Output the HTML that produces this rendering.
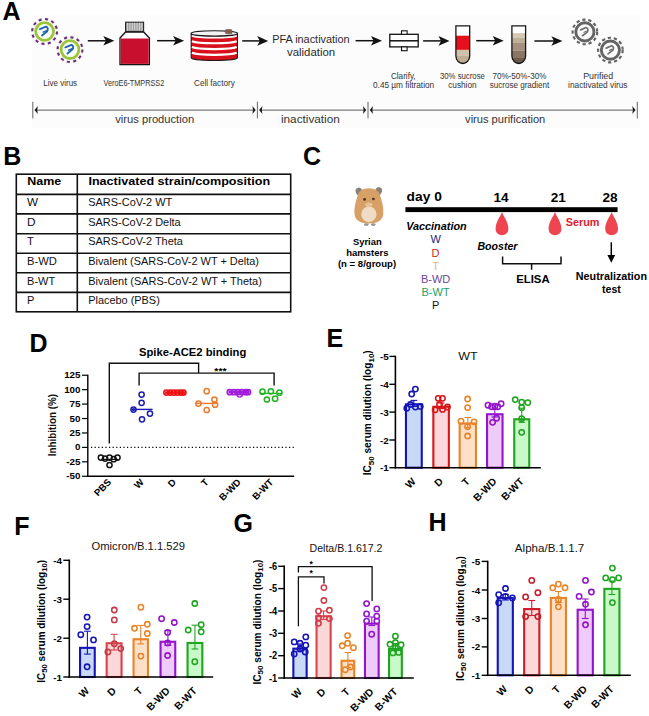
<!DOCTYPE html>
<html><head><meta charset="utf-8"><style>
html,body{margin:0;padding:0;background:#fff;}
body{width:649px;height:716px;overflow:hidden;}
svg{display:block;}
text{font-family:"Liberation Sans", sans-serif;}
</style></head><body>
<svg width="649" height="716" viewBox="0 0 649 716">
<rect x="32" y="15" width="608" height="113" fill="#fcfcfc" stroke="none" stroke-width="1"/>
<text x="2.6" y="19.9" font-size="25" font-weight="bold" text-anchor="start" fill="#000">A</text>
<circle cx="44.60" cy="31.50" r="12.4" stroke="#e8c8ec" stroke-width="3.2" fill="none" stroke-dasharray="3.6 2.9" stroke-opacity="0.6"/>
<circle cx="44.60" cy="31.50" r="12.4" stroke="#62306e" stroke-width="2.0" fill="none" stroke-dasharray="3.0 3.5"/>
<circle cx="44.60" cy="31.50" r="8.9" stroke="#9cc43a" stroke-width="2.8" fill="#f8fff4"/>
<path d="M40.0 29.2 L46.0 26.7 Q49.0 28.1 47.0 31.5 L42.0 35.4" stroke="#2463b0" stroke-width="1.9" fill="none" stroke-linecap="round" stroke-linejoin="round"/>
<path d="M43.2 32.1 L46.6 30.6" stroke="#2463b0" stroke-width="1.4" fill="none" stroke-linecap="round"/>
<circle cx="70.00" cy="49.60" r="12.4" stroke="#e8c8ec" stroke-width="3.2" fill="none" stroke-dasharray="3.6 2.9" stroke-opacity="0.6"/>
<circle cx="70.00" cy="49.60" r="12.4" stroke="#62306e" stroke-width="2.0" fill="none" stroke-dasharray="3.0 3.5"/>
<circle cx="70.00" cy="49.60" r="8.9" stroke="#9cc43a" stroke-width="2.8" fill="#f8fff4"/>
<path d="M65.4 47.300000000000004 L71.4 44.800000000000004 Q74.4 46.2 72.4 49.6 L67.4 53.5" stroke="#2463b0" stroke-width="1.9" fill="none" stroke-linecap="round" stroke-linejoin="round"/>
<path d="M68.6 50.2 L72.0 48.7" stroke="#2463b0" stroke-width="1.4" fill="none" stroke-linecap="round"/>
<line x1="87.8" y1="40.8" x2="106.39999999999999" y2="40.8" stroke="#111" stroke-width="1.5"/>
<path d="M114.3 40.8 L103.3 36.0 L105.89999999999999 40.8 L103.3 45.599999999999994 Z" stroke="none" stroke-width="1" fill="#111"/>
<path d="M120.0 38.0 L125.6 32.0 L143.6 32.0 L149.4 38.0 L149.4 64.6 L120.0 64.6 Z" stroke="#111" stroke-width="1.3" fill="#fff"/>
<rect x="120.7" y="38.5" width="28.0" height="25.4" fill="#c8102e" stroke="none" stroke-width="1"/>
<rect x="125.6" y="22.2" width="18" height="9.2" fill="#a4a4a4" stroke="#222" stroke-width="1.1"/>
<line x1="127.5" y1="22.8" x2="127.5" y2="30.8" stroke="#dcdcdc" stroke-width="0.8"/>
<line x1="129.9" y1="22.8" x2="129.9" y2="30.8" stroke="#dcdcdc" stroke-width="0.8"/>
<line x1="132.3" y1="22.8" x2="132.3" y2="30.8" stroke="#dcdcdc" stroke-width="0.8"/>
<line x1="134.7" y1="22.8" x2="134.7" y2="30.8" stroke="#dcdcdc" stroke-width="0.8"/>
<line x1="137.1" y1="22.8" x2="137.1" y2="30.8" stroke="#dcdcdc" stroke-width="0.8"/>
<line x1="139.5" y1="22.8" x2="139.5" y2="30.8" stroke="#dcdcdc" stroke-width="0.8"/>
<line x1="141.9" y1="22.8" x2="141.9" y2="30.8" stroke="#dcdcdc" stroke-width="0.8"/>
<line x1="157.1" y1="40.7" x2="176.2" y2="40.7" stroke="#111" stroke-width="1.5"/>
<path d="M184.1 40.7 L173.1 35.900000000000006 L175.7 40.7 L173.1 45.5 Z" stroke="none" stroke-width="1" fill="#111"/>
<path d="M191.2 33.4 L191.2 57.8 A23.10000000000001 2.7 0 0 0 237.4 57.8 L237.4 33.4 Z" stroke="#1a1a1a" stroke-width="1.1" fill="#d8101c"/>
<path d="M191.89999999999998 35.4 A23.10000000000001 2.7 0 0 0 236.70000000000002 35.4" stroke="#fff" stroke-width="2.2" fill="none"/>
<path d="M191.89999999999998 41.2 A23.10000000000001 2.7 0 0 0 236.70000000000002 41.2" stroke="#fff" stroke-width="2.2" fill="none"/>
<path d="M191.89999999999998 47.0 A23.10000000000001 2.7 0 0 0 236.70000000000002 47.0" stroke="#fff" stroke-width="2.2" fill="none"/>
<path d="M191.89999999999998 52.8 A23.10000000000001 2.7 0 0 0 236.70000000000002 52.8" stroke="#fff" stroke-width="2.2" fill="none"/>
<ellipse cx="214.3" cy="33.4" rx="23.10000000000001" ry="2.7" fill="#f2f2f2" stroke="#1a1a1a" stroke-width="1.1"/>
<rect x="225.4" y="29.6" width="6.6" height="4.2" fill="#8c5a48" stroke="#555" stroke-width="0.6" rx="1.2"/>
<line x1="242.2" y1="40.9" x2="260.3" y2="40.9" stroke="#111" stroke-width="1.5"/>
<path d="M268.2 40.9 L257.2 36.1 L259.8 40.9 L257.2 45.699999999999996 Z" stroke="none" stroke-width="1" fill="#111"/>
<text x="310.9" y="43.1" font-size="11.2" text-anchor="middle" fill="#2a2a2a" textLength="77.50" lengthAdjust="spacingAndGlyphs">PFA inactivation</text>
<text x="311.1" y="55.7" font-size="11.2" text-anchor="middle" fill="#2a2a2a" textLength="48.10" lengthAdjust="spacingAndGlyphs">validation</text>
<line x1="355.6" y1="40.7" x2="374.1" y2="40.7" stroke="#111" stroke-width="1.5"/>
<path d="M382.0 40.7 L371.0 35.900000000000006 L373.6 40.7 L371.0 45.5 Z" stroke="none" stroke-width="1" fill="#111"/>
<rect x="389.8" y="34.3" width="28.4" height="12.6" fill="#fff" stroke="#111" stroke-width="1.3"/>
<line x1="389.8" y1="40.8" x2="418.2" y2="40.8" stroke="#111" stroke-width="1.5"/>
<rect x="401.5" y="30.8" width="5.6" height="3.5" fill="#fff" stroke="#111" stroke-width="1.1"/>
<rect x="401.5" y="46.9" width="5.6" height="3.8" fill="#fff" stroke="#111" stroke-width="1.1"/>
<line x1="423.1" y1="40.9" x2="441.6" y2="40.9" stroke="#111" stroke-width="1.5"/>
<path d="M449.5 40.9 L438.5 36.1 L441.1 40.9 L438.5 45.699999999999996 Z" stroke="none" stroke-width="1" fill="#111"/>
<clipPath id="tc1"><path d="M455.9 25.9 L455.9 56.0 C455.9 60.9 459.59999999999997 63.5 462.79999999999995 63.5 C465.99999999999994 63.5 469.7 60.9 469.7 56.0 L469.7 25.9 Z"/></clipPath>
<g clip-path="url(#tc1)">
<rect x="455.9" y="25" width="13.8" height="10.700000000000003" fill="#fff" stroke="none" stroke-width="1"/>
<rect x="455.9" y="35.7" width="13.8" height="14.199999999999996" fill="#e80f1c" stroke="none" stroke-width="1"/>
<rect x="455.9" y="49.9" width="13.8" height="6.100000000000001" fill="#cfc2aa" stroke="none" stroke-width="1"/>
<rect x="455.9" y="56" width="13.8" height="8" fill="#bfae94" stroke="none" stroke-width="1"/>
</g>
<path d="M455.9 25.9 L455.9 56.0 C455.9 60.9 459.59999999999997 63.5 462.79999999999995 63.5 C465.99999999999994 63.5 469.7 60.9 469.7 56.0 L469.7 25.9 Z" stroke="#151515" stroke-width="1.3" fill="none"/>
<line x1="476.2" y1="40.7" x2="495.8" y2="40.7" stroke="#111" stroke-width="1.5"/>
<path d="M503.7 40.7 L492.7 35.900000000000006 L495.3 40.7 L492.7 45.5 Z" stroke="none" stroke-width="1" fill="#111"/>
<clipPath id="tc2"><path d="M511.9 25.9 L511.9 56.0 C511.9 60.9 515.55 63.5 518.75 63.5 C521.95 63.5 525.6 60.9 525.6 56.0 L525.6 25.9 Z"/></clipPath>
<g clip-path="url(#tc2)">
<rect x="511.9" y="25" width="13.7" height="8.100000000000001" fill="#fff" stroke="none" stroke-width="1"/>
<rect x="511.9" y="33.1" width="13.7" height="4.600000000000001" fill="#d6c8b2" stroke="none" stroke-width="1"/>
<rect x="511.9" y="37.7" width="13.7" height="5.199999999999996" fill="#bfae98" stroke="none" stroke-width="1"/>
<rect x="511.9" y="42.9" width="13.7" height="7.899999999999999" fill="#a59080" stroke="none" stroke-width="1"/>
<rect x="511.9" y="50.8" width="13.7" height="7.200000000000003" fill="#8a7666" stroke="none" stroke-width="1"/>
<rect x="511.9" y="58" width="13.7" height="6" fill="#6c5a4c" stroke="none" stroke-width="1"/>
</g>
<path d="M511.9 25.9 L511.9 56.0 C511.9 60.9 515.55 63.5 518.75 63.5 C521.95 63.5 525.6 60.9 525.6 56.0 L525.6 25.9 Z" stroke="#151515" stroke-width="1.3" fill="none"/>
<line x1="534.4" y1="41.0" x2="554.5" y2="41.0" stroke="#111" stroke-width="1.5"/>
<path d="M562.4 41.0 L551.4 36.2 L554.0 41.0 L551.4 45.8 Z" stroke="none" stroke-width="1" fill="#111"/>
<circle cx="584.90" cy="31.90" r="12.3" stroke="#626262" stroke-width="2.1" fill="none" stroke-dasharray="3.3 2.8"/>
<circle cx="584.90" cy="31.90" r="9.1" stroke="#646464" stroke-width="2.9" fill="#fbfbfb"/>
<path d="M580.6999999999999 29.9 L586.1 27.5 Q589.1 28.7 587.3 32.1 L582.5 35.699999999999996" stroke="#707070" stroke-width="1.7" fill="none" stroke-linecap="round" stroke-linejoin="round"/>
<path d="M583.5 32.5 L586.9 31.0" stroke="#707070" stroke-width="1.3" fill="none"/>
<circle cx="610.40" cy="50.10" r="12.3" stroke="#626262" stroke-width="2.1" fill="none" stroke-dasharray="3.3 2.8"/>
<circle cx="610.40" cy="50.10" r="9.1" stroke="#646464" stroke-width="2.9" fill="#fbfbfb"/>
<path d="M606.1999999999999 48.1 L611.6 45.7 Q614.6 46.9 612.8 50.300000000000004 L608.0 53.9" stroke="#707070" stroke-width="1.7" fill="none" stroke-linecap="round" stroke-linejoin="round"/>
<path d="M609.0 50.7 L612.4 49.2" stroke="#707070" stroke-width="1.3" fill="none"/>
<text x="60.2" y="85.6" font-size="8.4" text-anchor="middle" fill="#333" textLength="33.87" lengthAdjust="spacingAndGlyphs">Live virus</text>
<text x="133.9" y="85.6" font-size="8.4" text-anchor="middle" fill="#333" textLength="60.67" lengthAdjust="spacingAndGlyphs">VeroE6-TMPRSS2</text>
<text x="214.4" y="85.6" font-size="8.4" text-anchor="middle" fill="#333" textLength="40.67" lengthAdjust="spacingAndGlyphs">Cell factory</text>
<text x="403.3" y="78.7" font-size="8.4" text-anchor="middle" fill="#333" textLength="24.67" lengthAdjust="spacingAndGlyphs">Clarify,</text>
<text x="403.6" y="88.3" font-size="8.4" text-anchor="middle" fill="#333" textLength="61.17" lengthAdjust="spacingAndGlyphs">0.45 µm filtration</text>
<text x="462.4" y="78.7" font-size="8.4" text-anchor="middle" fill="#333" textLength="44.97" lengthAdjust="spacingAndGlyphs">30% sucrose</text>
<text x="462.4" y="88.3" font-size="8.4" text-anchor="middle" fill="#333" textLength="28.37" lengthAdjust="spacingAndGlyphs">cushion</text>
<text x="519.4" y="78.7" font-size="8.4" text-anchor="middle" fill="#333" textLength="53.97" lengthAdjust="spacingAndGlyphs">70%-50%-30%</text>
<text x="519.5" y="88.3" font-size="8.4" text-anchor="middle" fill="#333" textLength="59.67" lengthAdjust="spacingAndGlyphs">sucrose gradient</text>
<text x="598.2" y="78.7" font-size="8.4" text-anchor="middle" fill="#333" textLength="30.07" lengthAdjust="spacingAndGlyphs">Purified</text>
<text x="597.8" y="88.3" font-size="8.4" text-anchor="middle" fill="#333" textLength="59.47" lengthAdjust="spacingAndGlyphs">inactivated virus</text>
<line x1="32.8" y1="101.8" x2="32.8" y2="118.4" stroke="#555" stroke-width="0.9"/>
<line x1="257.4" y1="101.8" x2="257.4" y2="118.4" stroke="#555" stroke-width="0.9"/>
<line x1="368.0" y1="101.8" x2="368.0" y2="118.4" stroke="#555" stroke-width="0.9"/>
<line x1="637.3" y1="101.8" x2="637.3" y2="118.4" stroke="#555" stroke-width="0.9"/>
<line x1="35.8" y1="110.1" x2="254.39999999999998" y2="110.1" stroke="#7a7a7a" stroke-width="1.4"/>
<path d="M34.5 110.1 L37.8 106.1 L37.199999999999996 110.1 L37.8 114.1 Z" stroke="none" stroke-width="1" fill="#1a1a1a"/>
<path d="M255.7 110.1 L252.39999999999998 106.1 L252.99999999999997 110.1 L252.39999999999998 114.1 Z" stroke="none" stroke-width="1" fill="#1a1a1a"/>
<line x1="260.4" y1="110.1" x2="365.0" y2="110.1" stroke="#7a7a7a" stroke-width="1.4"/>
<path d="M259.09999999999997 110.1 L262.4 106.1 L261.79999999999995 110.1 L262.4 114.1 Z" stroke="none" stroke-width="1" fill="#1a1a1a"/>
<path d="M366.3 110.1 L363.0 106.1 L363.6 110.1 L363.0 114.1 Z" stroke="none" stroke-width="1" fill="#1a1a1a"/>
<line x1="371.0" y1="110.1" x2="634.3" y2="110.1" stroke="#7a7a7a" stroke-width="1.4"/>
<path d="M369.7 110.1 L373.0 106.1 L372.4 110.1 L373.0 114.1 Z" stroke="none" stroke-width="1" fill="#1a1a1a"/>
<path d="M635.5999999999999 110.1 L632.3 106.1 L632.9 110.1 L632.3 114.1 Z" stroke="none" stroke-width="1" fill="#1a1a1a"/>
<text x="154.7" y="123.2" font-size="11" text-anchor="middle" fill="#333" textLength="78.88" lengthAdjust="spacingAndGlyphs">virus production</text>
<text x="310.4" y="123.2" font-size="11" text-anchor="middle" fill="#333" textLength="58.88" lengthAdjust="spacingAndGlyphs">inactivation</text>
<text x="505.2" y="123.2" font-size="11" text-anchor="middle" fill="#333" textLength="80.18" lengthAdjust="spacingAndGlyphs">virus purification</text>
<text x="3.2" y="165.2" font-size="25" font-weight="bold" text-anchor="start" fill="#000">B</text>
<rect x="16.3" y="174.2" width="274.4" height="137.60000000000002" fill="none" stroke="#111" stroke-width="1.6"/>
<line x1="16.3" y1="194.4" x2="290.7" y2="194.4" stroke="#111" stroke-width="1.6"/>
<line x1="16.3" y1="213.9" x2="290.7" y2="213.9" stroke="#111" stroke-width="1.6"/>
<line x1="16.3" y1="233.7" x2="290.7" y2="233.7" stroke="#111" stroke-width="1.6"/>
<line x1="16.3" y1="253.3" x2="290.7" y2="253.3" stroke="#111" stroke-width="1.6"/>
<line x1="16.3" y1="272.8" x2="290.7" y2="272.8" stroke="#111" stroke-width="1.6"/>
<line x1="16.3" y1="292.4" x2="290.7" y2="292.4" stroke="#111" stroke-width="1.6"/>
<line x1="77.3" y1="174.2" x2="77.3" y2="311.8" stroke="#111" stroke-width="1.6"/>
<text x="27.3" y="185.3" font-size="11.0" font-weight="bold" text-anchor="start" fill="#000" textLength="33.98" lengthAdjust="spacingAndGlyphs">Name</text>
<text x="88.4" y="185.3" font-size="11.0" font-weight="bold" text-anchor="start" fill="#000" textLength="181.68" lengthAdjust="spacingAndGlyphs">Inactivated strain/composition</text>
<text x="27.1" y="206.4" font-size="10.3" text-anchor="start" fill="#111" textLength="11.02" lengthAdjust="spacingAndGlyphs">W</text>
<text x="88.2" y="206.4" font-size="10.3" text-anchor="start" fill="#111" textLength="84.12" lengthAdjust="spacingAndGlyphs">SARS-CoV-2 WT</text>
<text x="27.1" y="226.0" font-size="10.3" text-anchor="start" fill="#111" textLength="8.52" lengthAdjust="spacingAndGlyphs">D</text>
<text x="88.2" y="226.0" font-size="10.3" text-anchor="start" fill="#111" textLength="92.52" lengthAdjust="spacingAndGlyphs">SARS-CoV-2 Delta</text>
<text x="27.1" y="245.3" font-size="10.3" text-anchor="start" fill="#111" textLength="6.92" lengthAdjust="spacingAndGlyphs">T</text>
<text x="88.2" y="245.3" font-size="10.3" text-anchor="start" fill="#111" textLength="94.72" lengthAdjust="spacingAndGlyphs">SARS-CoV-2 Theta</text>
<text x="27.1" y="264.9" font-size="10.3" text-anchor="start" fill="#111" textLength="29.82" lengthAdjust="spacingAndGlyphs">B-WD</text>
<text x="88.2" y="264.9" font-size="10.3" text-anchor="start" fill="#111" textLength="170.82" lengthAdjust="spacingAndGlyphs">Bivalent (SARS-CoV-2 WT + Delta)</text>
<text x="27.1" y="284.5" font-size="10.3" text-anchor="start" fill="#111" textLength="28.12" lengthAdjust="spacingAndGlyphs">B-WT</text>
<text x="88.2" y="284.5" font-size="10.3" text-anchor="start" fill="#111" textLength="173.62" lengthAdjust="spacingAndGlyphs">Bivalent (SARS-CoV-2 WT + Theta)</text>
<text x="27.1" y="303.6" font-size="10.3" text-anchor="start" fill="#111" textLength="7.42" lengthAdjust="spacingAndGlyphs">P</text>
<text x="88.2" y="303.6" font-size="10.3" text-anchor="start" fill="#111" textLength="71.62" lengthAdjust="spacingAndGlyphs">Placebo (PBS)</text>
<text x="303.1" y="165.4" font-size="25" font-weight="bold" text-anchor="start" fill="#000">C</text>
<g>
<ellipse cx="359.2" cy="191.8" rx="3.4" ry="4.2" transform="rotate(-25 359.2 191.8)" fill="#8a8077"/>
<ellipse cx="378.4" cy="191.2" rx="3.4" ry="4.2" transform="rotate(25 378.4 191.2)" fill="#8a8077"/>
<path d="M368.9 188.2 C376.2 188.2 379.6 192 380.6 197 C382.6 203 384 210 383.1 215.2 C382 221.2 376 223.4 368.9 223.4 C361.8 223.4 355.8 221.2 354.7 215.2 C353.8 210 355.2 203 357.2 197 C358.2 192 361.6 188.2 368.9 188.2 Z" stroke="none" stroke-width="1" fill="#d6a066"/>
<ellipse cx="368.9" cy="214.2" rx="7.6" ry="7.8" fill="#f0dcc6"/>
<ellipse cx="368.9" cy="204.6" rx="3.6" ry="2.2" fill="#e8c49a"/>
<circle cx="364.60" cy="199.40" r="1.35" stroke="none" stroke-width="0" fill="#4a2e1e"/>
<circle cx="373.40" cy="199.00" r="1.35" stroke="none" stroke-width="0" fill="#4a2e1e"/>
<ellipse cx="366.3" cy="224.6" rx="2.4" ry="1.4" fill="#9a9490"/>
<ellipse cx="373.3" cy="224.6" rx="2.4" ry="1.4" fill="#9a9490"/>
</g>
<text x="367.3" y="244.6" font-size="9.6" font-weight="bold" text-anchor="middle" fill="#000" textLength="28.77" lengthAdjust="spacingAndGlyphs">Syrian</text>
<text x="367.4" y="255.8" font-size="9.6" font-weight="bold" text-anchor="middle" fill="#000" textLength="42.37" lengthAdjust="spacingAndGlyphs">hamsters</text>
<text x="367.0" y="267.0" font-size="9.6" font-weight="bold" text-anchor="middle" fill="#000" textLength="58.17" lengthAdjust="spacingAndGlyphs">(n = 8/group)</text>
<rect x="405.4" y="207.2" width="212.2" height="4.9" fill="#000" stroke="none" stroke-width="1"/>
<text x="406.6" y="201.4" font-size="12.6" font-weight="bold" text-anchor="start" fill="#000" textLength="35.21" lengthAdjust="spacingAndGlyphs">day 0</text>
<text x="0" y="0" font-size="12.6" font-weight="bold" text-anchor="middle" fill="#000" transform="translate(501.0 201.6) scale(1.08 1)">14</text>
<text x="0" y="0" font-size="12.6" font-weight="bold" text-anchor="middle" fill="#000" transform="translate(558.3 201.6) scale(1.08 1)">21</text>
<text x="0" y="0" font-size="12.6" font-weight="bold" text-anchor="middle" fill="#000" transform="translate(610.0 201.6) scale(1.08 1)">28</text>
<path d="M502.0 212.0 C503.6 217.0 508.4 221.5 508.4 229.0 C508.4 232.79999999999998 505.4 235.2 502.0 235.2 C498.6 235.2 495.6 232.79999999999998 495.6 229.0 C495.6 221.5 500.4 217.0 502.0 212.0 Z" stroke="none" stroke-width="1" fill="#ef4550"/>
<path d="M555.0 212.0 C556.6 217.0 561.4 221.5 561.4 229.0 C561.4 232.79999999999998 558.4 235.2 555.0 235.2 C551.6 235.2 548.6 232.79999999999998 548.6 229.0 C548.6 221.5 553.4 217.0 555.0 212.0 Z" stroke="none" stroke-width="1" fill="#ef4550"/>
<path d="M611.6 212.0 C613.2 217.0 618.0 221.5 618.0 229.0 C618.0 232.79999999999998 615.0 235.2 611.6 235.2 C608.2 235.2 605.2 232.79999999999998 605.2 229.0 C605.2 221.5 610.0 217.0 611.6 212.0 Z" stroke="none" stroke-width="1" fill="#ef4550"/>
<text x="582.6" y="226.2" font-size="10.6" font-weight="bold" text-anchor="middle" fill="#dc1c2c" textLength="33.85" lengthAdjust="spacingAndGlyphs">Serum</text>
<text x="406.2" y="230.4" font-size="10.7" font-weight="bold" font-style="italic" text-anchor="start" fill="#000" textLength="60.46" lengthAdjust="spacingAndGlyphs">Vaccination</text>
<text x="435.6" y="243.4" font-size="11" text-anchor="middle" fill="#1c2680">W</text>
<text x="435.6" y="256.58" font-size="11" text-anchor="middle" fill="#c62a2a">D</text>
<text x="435.6" y="269.76" font-size="11" text-anchor="middle" fill="#dcb48e">T</text>
<text x="435.6" y="282.94" font-size="11" text-anchor="middle" fill="#6e4698">B-WD</text>
<text x="435.6" y="296.12" font-size="11" text-anchor="middle" fill="#23a066">B-WT</text>
<text x="435.6" y="309.3" font-size="11" text-anchor="middle" fill="#111">P</text>
<text x="477.4" y="249.7" font-size="10.75" font-weight="bold" font-style="italic" text-anchor="start" fill="#000" textLength="40.06" lengthAdjust="spacingAndGlyphs">Booster</text>
<path d="M502.6 256.4 L502.6 263.8 L561.0 263.8 L561.0 256.4 M531.6 263.8 L531.6 269.8" stroke="#111" stroke-width="1.5" fill="none"/>
<text x="532.9" y="283.4" font-size="11" font-weight="bold" text-anchor="middle" fill="#000" textLength="33.38" lengthAdjust="spacingAndGlyphs">ELISA</text>
<line x1="611.3" y1="242.3" x2="611.3" y2="256" stroke="#000" stroke-width="1.5"/>
<path d="M607.4 255 L615.2 255 L611.3 262.8 Z" stroke="none" stroke-width="1" fill="#000"/>
<text x="611.4" y="280.0" font-size="10.6" font-weight="bold" text-anchor="middle" fill="#000" textLength="71.15" lengthAdjust="spacingAndGlyphs">Neutralization</text>
<text x="611.4" y="293.3" font-size="10.6" font-weight="bold" text-anchor="middle" fill="#000">test</text>
<text x="29.6" y="351.6" font-size="25" font-weight="bold" text-anchor="start" fill="#000">D</text>
<line x1="87.8" y1="374.62499999999994" x2="87.8" y2="476.87" stroke="#000" stroke-width="1.4"/>
<line x1="82.0" y1="375.22499999999997" x2="87.8" y2="375.22499999999997" stroke="#000" stroke-width="1.2"/>
<text x="0" y="0" font-size="8.9" font-weight="bold" text-anchor="end" fill="#000" transform="translate(80.5 378.22) scale(1.1 1)">125</text>
<line x1="82.0" y1="389.65999999999997" x2="87.8" y2="389.65999999999997" stroke="#000" stroke-width="1.2"/>
<text x="0" y="0" font-size="8.9" font-weight="bold" text-anchor="end" fill="#000" transform="translate(80.5 392.66) scale(1.1 1)">100</text>
<line x1="82.0" y1="404.09499999999997" x2="87.8" y2="404.09499999999997" stroke="#000" stroke-width="1.2"/>
<text x="0" y="0" font-size="8.9" font-weight="bold" text-anchor="end" fill="#000" transform="translate(80.5 407.09) scale(1.1 1)">75</text>
<line x1="82.0" y1="418.53" x2="87.8" y2="418.53" stroke="#000" stroke-width="1.2"/>
<text x="0" y="0" font-size="8.9" font-weight="bold" text-anchor="end" fill="#000" transform="translate(80.5 421.53) scale(1.1 1)">50</text>
<line x1="82.0" y1="432.965" x2="87.8" y2="432.965" stroke="#000" stroke-width="1.2"/>
<text x="0" y="0" font-size="8.9" font-weight="bold" text-anchor="end" fill="#000" transform="translate(80.5 435.96) scale(1.1 1)">25</text>
<line x1="82.0" y1="447.4" x2="87.8" y2="447.4" stroke="#000" stroke-width="1.2"/>
<text x="0" y="0" font-size="8.9" font-weight="bold" text-anchor="end" fill="#000" transform="translate(80.5 450.40) scale(1.1 1)">0</text>
<line x1="82.0" y1="461.835" x2="87.8" y2="461.835" stroke="#000" stroke-width="1.2"/>
<text x="0" y="0" font-size="8.9" font-weight="bold" text-anchor="end" fill="#000" transform="translate(80.5 464.83) scale(1.1 1)">-25</text>
<line x1="82.0" y1="476.27" x2="87.8" y2="476.27" stroke="#000" stroke-width="1.2"/>
<text x="0" y="0" font-size="8.9" font-weight="bold" text-anchor="end" fill="#000" transform="translate(80.5 479.27) scale(1.1 1)">-50</text>
<line x1="87.1" y1="476.27" x2="294.2" y2="476.27" stroke="#000" stroke-width="1.4"/>
<line x1="91" y1="447.4" x2="294.2" y2="447.4" stroke="#000" stroke-width="1.2" stroke-dasharray="1.2 2.4"/>
<text x="192.6" y="355.9" font-size="11.1" font-weight="bold" text-anchor="middle" fill="#000" textLength="107.29" lengthAdjust="spacingAndGlyphs">Spike-ACE2 binding</text>
<text x="56.2" y="425.1" font-size="10.2" font-weight="bold" text-anchor="middle" fill="#111" transform="rotate(-90 56.2 425.1)" textLength="62.4" lengthAdjust="spacingAndGlyphs">Inhibition (%)</text>
<path d="M109.3 443.6 L109.3 363.3 L198.6 363.3 L198.6 373.1" stroke="#111" stroke-width="1.4" fill="none"/>
<path d="M139.1 385.6 L139.1 373.1 L274.1 373.1 L274.1 385.6" stroke="#111" stroke-width="1.4" fill="none"/>
<text x="220.5" y="374.0" font-size="9" font-weight="bold" text-anchor="middle" fill="#000" textLength="12.22" lengthAdjust="spacingAndGlyphs">***</text>
<text x="111.9" y="482.8" font-size="9.6" font-weight="bold" text-anchor="end" fill="#000" transform="rotate(-45 111.9 482.8)">PBS</text>
<text x="144.3" y="482.8" font-size="9.6" font-weight="bold" text-anchor="end" fill="#000" transform="rotate(-45 144.3 482.8)">W</text>
<text x="176.7" y="482.8" font-size="9.6" font-weight="bold" text-anchor="end" fill="#000" transform="rotate(-45 176.7 482.8)">D</text>
<text x="209.1" y="482.8" font-size="9.6" font-weight="bold" text-anchor="end" fill="#000" transform="rotate(-45 209.1 482.8)">T</text>
<text x="241.5" y="482.8" font-size="9.6" font-weight="bold" text-anchor="end" fill="#000" transform="rotate(-45 241.5 482.8)">B-WD</text>
<text x="273.9" y="482.8" font-size="9.6" font-weight="bold" text-anchor="end" fill="#000" transform="rotate(-45 273.9 482.8)">B-WT</text>
<circle cx="100.90" cy="457.60" r="2.6" stroke="#111" stroke-width="1.5" fill="none"/>
<circle cx="105.10" cy="458.60" r="2.6" stroke="#111" stroke-width="1.5" fill="none"/>
<circle cx="109.50" cy="457.60" r="2.6" stroke="#111" stroke-width="1.5" fill="none"/>
<circle cx="113.70" cy="459.20" r="2.6" stroke="#111" stroke-width="1.5" fill="none"/>
<circle cx="117.50" cy="457.60" r="2.6" stroke="#111" stroke-width="1.5" fill="none"/>
<circle cx="109.50" cy="465.00" r="2.6" stroke="#111" stroke-width="1.5" fill="none"/>
<line x1="101" y1="459.4" x2="118" y2="459.4" stroke="#111" stroke-width="1.2"/>
<line x1="131.4" y1="409.4" x2="152.6" y2="409.4" stroke="#1c1cb4" stroke-width="1.4"/>
<circle cx="141.60" cy="394.60" r="2.6" stroke="#1c1cb4" stroke-width="1.5" fill="none"/>
<circle cx="141.60" cy="402.80" r="2.6" stroke="#1c1cb4" stroke-width="1.5" fill="none"/>
<circle cx="133.50" cy="409.60" r="2.6" stroke="#1c1cb4" stroke-width="1.5" fill="none"/>
<circle cx="150.00" cy="413.60" r="2.6" stroke="#1c1cb4" stroke-width="1.5" fill="none"/>
<circle cx="142.00" cy="419.30" r="2.6" stroke="#1c1cb4" stroke-width="1.5" fill="none"/>
<circle cx="133.50" cy="409.60" r="1.6" stroke="none" stroke-width="0" fill="#1c1cb4"/>
<circle cx="166.40" cy="392.60" r="2.6" stroke="#ee1111" stroke-width="1.6" fill="none"/>
<circle cx="170.00" cy="392.60" r="2.6" stroke="#ee1111" stroke-width="1.6" fill="none"/>
<circle cx="173.60" cy="392.60" r="2.6" stroke="#ee1111" stroke-width="1.6" fill="none"/>
<circle cx="177.20" cy="392.60" r="2.6" stroke="#ee1111" stroke-width="1.6" fill="none"/>
<circle cx="180.80" cy="392.60" r="2.6" stroke="#ee1111" stroke-width="1.6" fill="none"/>
<circle cx="183.40" cy="392.60" r="2.6" stroke="#ee1111" stroke-width="1.6" fill="none"/>
<line x1="165" y1="392.6" x2="185" y2="392.6" stroke="#ee1111" stroke-width="2.5"/>
<line x1="196.0" y1="403.4" x2="217.4" y2="403.4" stroke="#ec7a2c" stroke-width="1.4"/>
<circle cx="206.70" cy="391.20" r="2.6" stroke="#ec7a2c" stroke-width="1.5" fill="none"/>
<circle cx="214.40" cy="399.60" r="2.6" stroke="#ec7a2c" stroke-width="1.5" fill="none"/>
<circle cx="198.40" cy="403.60" r="2.6" stroke="#ec7a2c" stroke-width="1.5" fill="none"/>
<circle cx="215.10" cy="404.70" r="2.6" stroke="#ec7a2c" stroke-width="1.5" fill="none"/>
<circle cx="206.70" cy="410.00" r="2.6" stroke="#ec7a2c" stroke-width="1.5" fill="none"/>
<circle cx="229.80" cy="392.20" r="2.6" stroke="#a11ddc" stroke-width="1.6" fill="none"/>
<circle cx="233.80" cy="392.20" r="2.6" stroke="#a11ddc" stroke-width="1.6" fill="none"/>
<circle cx="237.80" cy="392.20" r="2.6" stroke="#a11ddc" stroke-width="1.6" fill="none"/>
<circle cx="241.80" cy="392.20" r="2.6" stroke="#a11ddc" stroke-width="1.6" fill="none"/>
<circle cx="245.80" cy="392.20" r="2.6" stroke="#a11ddc" stroke-width="1.6" fill="none"/>
<circle cx="248.00" cy="392.20" r="2.6" stroke="#a11ddc" stroke-width="1.6" fill="none"/>
<line x1="228.5" y1="392.2" x2="249.5" y2="392.2" stroke="#a11ddc" stroke-width="2.5"/>
<circle cx="239.70" cy="394.60" r="2.6" stroke="#a11ddc" stroke-width="1.3" fill="none"/>
<line x1="260.5" y1="393.4" x2="282.0" y2="393.4" stroke="#22b022" stroke-width="1.3"/>
<circle cx="262.50" cy="391.70" r="2.6" stroke="#22b022" stroke-width="1.5" fill="none"/>
<circle cx="270.90" cy="391.30" r="2.6" stroke="#22b022" stroke-width="1.5" fill="none"/>
<circle cx="279.40" cy="392.70" r="2.6" stroke="#22b022" stroke-width="1.5" fill="none"/>
<circle cx="266.90" cy="399.50" r="2.6" stroke="#22b022" stroke-width="1.5" fill="none"/>
<circle cx="275.10" cy="398.70" r="2.6" stroke="#22b022" stroke-width="1.5" fill="none"/>
<text x="326.5" y="347.2" font-size="25" font-weight="bold" text-anchor="start" fill="#000">E</text>
<text x="467.9" y="359.9" font-size="10.8" text-anchor="middle" fill="#111" textLength="19.36" lengthAdjust="spacingAndGlyphs">WT</text>
<text x="371.3" y="412.8" font-size="10.2" font-weight="bold" text-anchor="middle" transform="rotate(-90 371.3 412.8)" textLength="125" lengthAdjust="spacingAndGlyphs">IC<tspan font-size="8.0" dy="2.2">50</tspan><tspan dy="-2.2"> serum dilution (log</tspan><tspan font-size="8.0" dy="2.2">10</tspan><tspan dy="-2.2">)</tspan></text>
<rect x="405.95" y="404.35" width="15.80" height="63.35" fill="#c8d9f6" stroke="#1414b8" stroke-width="2.1"/>
<line x1="413.85" y1="400.4" x2="413.85" y2="406.5" stroke="#1414b8" stroke-width="1.1"/>
<line x1="410.45000000000005" y1="400.4" x2="417.25" y2="400.4" stroke="#1414b8" stroke-width="1.1"/>
<line x1="410.45000000000005" y1="406.5" x2="417.25" y2="406.5" stroke="#1414b8" stroke-width="1.1"/>
<circle cx="415.40" cy="389.10" r="2.65" stroke="#1414b8" stroke-width="1.55" fill="none"/>
<circle cx="411.70" cy="394.00" r="2.65" stroke="#1414b8" stroke-width="1.55" fill="none"/>
<circle cx="406.80" cy="408.20" r="2.65" stroke="#1414b8" stroke-width="1.55" fill="none"/>
<circle cx="410.50" cy="404.50" r="2.65" stroke="#1414b8" stroke-width="1.55" fill="none"/>
<circle cx="415.40" cy="407.00" r="2.65" stroke="#1414b8" stroke-width="1.55" fill="none"/>
<circle cx="420.30" cy="406.40" r="2.65" stroke="#1414b8" stroke-width="1.55" fill="none"/>
<rect x="433.35" y="406.75" width="15.50" height="60.95" fill="#fcd8dc" stroke="#d81616" stroke-width="2.1"/>
<line x1="441.1" y1="403.0" x2="441.1" y2="408.5" stroke="#d81616" stroke-width="1.1"/>
<line x1="437.70000000000005" y1="403.0" x2="444.5" y2="403.0" stroke="#d81616" stroke-width="1.1"/>
<line x1="437.70000000000005" y1="408.5" x2="444.5" y2="408.5" stroke="#d81616" stroke-width="1.1"/>
<circle cx="438.20" cy="398.30" r="2.65" stroke="#d81616" stroke-width="1.55" fill="none"/>
<circle cx="442.50" cy="398.30" r="2.65" stroke="#d81616" stroke-width="1.55" fill="none"/>
<circle cx="439.50" cy="404.50" r="2.65" stroke="#d81616" stroke-width="1.55" fill="none"/>
<circle cx="435.10" cy="409.80" r="2.65" stroke="#d81616" stroke-width="1.55" fill="none"/>
<circle cx="442.50" cy="409.40" r="2.65" stroke="#d81616" stroke-width="1.55" fill="none"/>
<circle cx="447.50" cy="407.00" r="2.65" stroke="#d81616" stroke-width="1.55" fill="none"/>
<rect x="459.65" y="423.45" width="16.30" height="44.25" fill="#fee0c8" stroke="#e88428" stroke-width="2.1"/>
<line x1="467.8" y1="417.5" x2="467.8" y2="427.5" stroke="#e88428" stroke-width="1.1"/>
<line x1="464.40000000000003" y1="417.5" x2="471.2" y2="417.5" stroke="#e88428" stroke-width="1.1"/>
<line x1="464.40000000000003" y1="427.5" x2="471.2" y2="427.5" stroke="#e88428" stroke-width="1.1"/>
<circle cx="467.60" cy="399.00" r="2.65" stroke="#e88428" stroke-width="1.55" fill="none"/>
<circle cx="467.60" cy="407.60" r="2.65" stroke="#e88428" stroke-width="1.55" fill="none"/>
<circle cx="461.00" cy="421.20" r="2.65" stroke="#e88428" stroke-width="1.55" fill="none"/>
<circle cx="474.00" cy="421.80" r="2.65" stroke="#e88428" stroke-width="1.55" fill="none"/>
<circle cx="467.60" cy="436.00" r="2.65" stroke="#e88428" stroke-width="1.55" fill="none"/>
<circle cx="467.60" cy="426.70" r="2.65" stroke="#e88428" stroke-width="1.55" fill="none"/>
<rect x="487.05" y="414.25" width="15.50" height="53.45" fill="#efcbf9" stroke="#9414cc" stroke-width="2.1"/>
<line x1="494.8" y1="409.5" x2="494.8" y2="417.0" stroke="#9414cc" stroke-width="1.1"/>
<line x1="491.40000000000003" y1="409.5" x2="498.2" y2="409.5" stroke="#9414cc" stroke-width="1.1"/>
<line x1="491.40000000000003" y1="417.0" x2="498.2" y2="417.0" stroke="#9414cc" stroke-width="1.1"/>
<circle cx="488.00" cy="405.20" r="2.65" stroke="#9414cc" stroke-width="1.55" fill="none"/>
<circle cx="491.60" cy="406.70" r="2.65" stroke="#9414cc" stroke-width="1.55" fill="none"/>
<circle cx="494.80" cy="406.20" r="2.65" stroke="#9414cc" stroke-width="1.55" fill="none"/>
<circle cx="497.80" cy="406.70" r="2.65" stroke="#9414cc" stroke-width="1.55" fill="none"/>
<circle cx="501.10" cy="403.70" r="2.65" stroke="#9414cc" stroke-width="1.55" fill="none"/>
<circle cx="496.60" cy="418.20" r="2.65" stroke="#9414cc" stroke-width="1.55" fill="none"/>
<circle cx="492.60" cy="422.30" r="2.65" stroke="#9414cc" stroke-width="1.55" fill="none"/>
<rect x="514.25" y="419.25" width="15.00" height="48.45" fill="#c9f8c9" stroke="#1fa51f" stroke-width="2.1"/>
<line x1="521.75" y1="408.2" x2="521.75" y2="422.3" stroke="#1fa51f" stroke-width="1.1"/>
<line x1="518.35" y1="408.2" x2="525.15" y2="408.2" stroke="#1fa51f" stroke-width="1.1"/>
<line x1="518.35" y1="422.3" x2="525.15" y2="422.3" stroke="#1fa51f" stroke-width="1.1"/>
<circle cx="515.20" cy="399.60" r="2.65" stroke="#1fa51f" stroke-width="1.55" fill="none"/>
<circle cx="521.70" cy="402.10" r="2.65" stroke="#1fa51f" stroke-width="1.55" fill="none"/>
<circle cx="527.80" cy="402.60" r="2.65" stroke="#1fa51f" stroke-width="1.55" fill="none"/>
<circle cx="521.70" cy="407.70" r="2.65" stroke="#1fa51f" stroke-width="1.55" fill="none"/>
<circle cx="521.70" cy="418.70" r="2.65" stroke="#1fa51f" stroke-width="1.55" fill="none"/>
<circle cx="521.70" cy="432.30" r="2.65" stroke="#1fa51f" stroke-width="1.55" fill="none"/>
<line x1="395.4" y1="355.7" x2="395.4" y2="468.5" stroke="#000" stroke-width="1.6"/>
<line x1="389.4" y1="356.4" x2="395.4" y2="356.4" stroke="#000" stroke-width="1.4"/>
<text x="388.8" y="359.9" font-size="9.9" font-weight="bold" text-anchor="end" fill="#000">-5</text>
<line x1="389.4" y1="384.3" x2="395.4" y2="384.3" stroke="#000" stroke-width="1.4"/>
<text x="388.8" y="387.8" font-size="9.9" font-weight="bold" text-anchor="end" fill="#000">-4</text>
<line x1="389.4" y1="412.1" x2="395.4" y2="412.1" stroke="#000" stroke-width="1.4"/>
<text x="388.8" y="415.6" font-size="9.9" font-weight="bold" text-anchor="end" fill="#000">-3</text>
<line x1="389.4" y1="440.0" x2="395.4" y2="440.0" stroke="#000" stroke-width="1.4"/>
<text x="388.8" y="443.5" font-size="9.9" font-weight="bold" text-anchor="end" fill="#000">-2</text>
<line x1="389.4" y1="467.7" x2="395.4" y2="467.7" stroke="#000" stroke-width="1.4"/>
<text x="388.8" y="471.2" font-size="9.9" font-weight="bold" text-anchor="end" fill="#000">-1</text>
<line x1="394.59999999999997" y1="467.7" x2="540.8" y2="467.7" stroke="#000" stroke-width="1.6"/>
<text x="416.5" y="482.1" font-size="10.3" font-weight="bold" text-anchor="end" fill="#000" transform="rotate(-45 416.5 482.1)">W</text>
<text x="443.7" y="482.1" font-size="10.3" font-weight="bold" text-anchor="end" fill="#000" transform="rotate(-45 443.7 482.1)">D</text>
<text x="470.4" y="482.1" font-size="10.3" font-weight="bold" text-anchor="end" fill="#000" transform="rotate(-45 470.4 482.1)">T</text>
<text x="497.4" y="482.1" font-size="10.3" font-weight="bold" text-anchor="end" fill="#000" transform="rotate(-45 497.4 482.1)">B-WD</text>
<text x="524.4" y="482.1" font-size="10.3" font-weight="bold" text-anchor="end" fill="#000" transform="rotate(-45 524.4 482.1)">B-WT</text>
<text x="14.2" y="535.3" font-size="25" font-weight="bold" text-anchor="start" fill="#000">F</text>
<text x="138.3" y="550.4" font-size="10.8" text-anchor="middle" fill="#111" textLength="93.46" lengthAdjust="spacingAndGlyphs">Omicron/B.1.1.529</text>
<text x="44.9" y="621.3" font-size="10.2" font-weight="bold" text-anchor="middle" transform="rotate(-90 44.9 621.3)" textLength="123" lengthAdjust="spacingAndGlyphs">IC<tspan font-size="8.0" dy="2.2">50</tspan><tspan dy="-2.2"> serum dilution (log</tspan><tspan font-size="8.0" dy="2.2">10</tspan><tspan dy="-2.2">)</tspan></text>
<rect x="80.05" y="647.85" width="14.70" height="29.15" fill="#c8d9f6" stroke="#1414b8" stroke-width="2.1"/>
<line x1="87.4" y1="631.2" x2="87.4" y2="654.1" stroke="#1414b8" stroke-width="1.1"/>
<line x1="84.0" y1="631.2" x2="90.80000000000001" y2="631.2" stroke="#1414b8" stroke-width="1.1"/>
<line x1="84.0" y1="654.1" x2="90.80000000000001" y2="654.1" stroke="#1414b8" stroke-width="1.1"/>
<circle cx="87.10" cy="617.10" r="2.65" stroke="#1414b8" stroke-width="1.55" fill="none"/>
<circle cx="87.10" cy="626.60" r="2.65" stroke="#1414b8" stroke-width="1.55" fill="none"/>
<circle cx="80.80" cy="634.70" r="2.65" stroke="#1414b8" stroke-width="1.55" fill="none"/>
<circle cx="93.50" cy="639.90" r="2.65" stroke="#1414b8" stroke-width="1.55" fill="none"/>
<circle cx="87.10" cy="666.80" r="2.65" stroke="#1414b8" stroke-width="1.55" fill="none"/>
<rect x="106.65" y="643.25" width="14.90" height="33.75" fill="#fbd8d8" stroke="#d9434e" stroke-width="2.1"/>
<line x1="114.1" y1="634.3" x2="114.1" y2="650.0" stroke="#d9434e" stroke-width="1.1"/>
<line x1="110.69999999999999" y1="634.3" x2="117.5" y2="634.3" stroke="#d9434e" stroke-width="1.1"/>
<line x1="110.69999999999999" y1="650.0" x2="117.5" y2="650.0" stroke="#d9434e" stroke-width="1.1"/>
<circle cx="114.30" cy="610.00" r="2.65" stroke="#c23a46" stroke-width="1.55" fill="none"/>
<circle cx="114.30" cy="619.90" r="2.65" stroke="#c23a46" stroke-width="1.55" fill="none"/>
<circle cx="107.90" cy="652.00" r="2.65" stroke="#c23a46" stroke-width="1.55" fill="none"/>
<circle cx="120.70" cy="648.60" r="2.65" stroke="#c23a46" stroke-width="1.55" fill="none"/>
<circle cx="114.30" cy="643.70" r="2.65" stroke="#c23a46" stroke-width="1.55" fill="none"/>
<rect x="133.55" y="639.25" width="14.40" height="37.75" fill="#fee0c8" stroke="#e88428" stroke-width="2.1"/>
<line x1="140.75" y1="625.4" x2="140.75" y2="643.9" stroke="#e88428" stroke-width="1.1"/>
<line x1="137.35" y1="625.4" x2="144.15" y2="625.4" stroke="#e88428" stroke-width="1.1"/>
<line x1="137.35" y1="643.9" x2="144.15" y2="643.9" stroke="#e88428" stroke-width="1.1"/>
<circle cx="140.90" cy="607.20" r="2.65" stroke="#e88428" stroke-width="1.55" fill="none"/>
<circle cx="134.50" cy="628.30" r="2.65" stroke="#e88428" stroke-width="1.55" fill="none"/>
<circle cx="147.30" cy="624.30" r="2.65" stroke="#e88428" stroke-width="1.55" fill="none"/>
<circle cx="147.30" cy="633.50" r="2.65" stroke="#e88428" stroke-width="1.55" fill="none"/>
<circle cx="140.90" cy="656.10" r="2.65" stroke="#e88428" stroke-width="1.55" fill="none"/>
<rect x="160.55" y="641.75" width="14.70" height="35.25" fill="#efcbf9" stroke="#9414cc" stroke-width="2.1"/>
<line x1="167.9" y1="630.6" x2="167.9" y2="645.4" stroke="#9414cc" stroke-width="1.1"/>
<line x1="164.5" y1="630.6" x2="171.3" y2="630.6" stroke="#9414cc" stroke-width="1.1"/>
<line x1="164.5" y1="645.4" x2="171.3" y2="645.4" stroke="#9414cc" stroke-width="1.1"/>
<circle cx="161.60" cy="618.70" r="2.65" stroke="#9414cc" stroke-width="1.55" fill="none"/>
<circle cx="174.30" cy="622.50" r="2.65" stroke="#9414cc" stroke-width="1.55" fill="none"/>
<circle cx="167.60" cy="632.40" r="2.65" stroke="#9414cc" stroke-width="1.55" fill="none"/>
<circle cx="167.60" cy="643.00" r="2.65" stroke="#9414cc" stroke-width="1.55" fill="none"/>
<circle cx="167.60" cy="655.50" r="2.65" stroke="#9414cc" stroke-width="1.55" fill="none"/>
<rect x="187.55" y="642.95" width="14.80" height="34.05" fill="#c9f8c9" stroke="#1fa51f" stroke-width="2.1"/>
<line x1="194.95" y1="625.2" x2="194.95" y2="649.0" stroke="#1fa51f" stroke-width="1.1"/>
<line x1="191.54999999999998" y1="625.2" x2="198.35" y2="625.2" stroke="#1fa51f" stroke-width="1.1"/>
<line x1="191.54999999999998" y1="649.0" x2="198.35" y2="649.0" stroke="#1fa51f" stroke-width="1.1"/>
<circle cx="194.80" cy="603.50" r="2.65" stroke="#1fa51f" stroke-width="1.55" fill="none"/>
<circle cx="188.20" cy="630.00" r="2.65" stroke="#1fa51f" stroke-width="1.55" fill="none"/>
<circle cx="201.20" cy="624.70" r="2.65" stroke="#1fa51f" stroke-width="1.55" fill="none"/>
<circle cx="201.20" cy="631.80" r="2.65" stroke="#1fa51f" stroke-width="1.55" fill="none"/>
<circle cx="194.80" cy="661.70" r="2.65" stroke="#1fa51f" stroke-width="1.55" fill="none"/>
<line x1="69.3" y1="559.5999999999999" x2="69.3" y2="677.8" stroke="#000" stroke-width="1.6"/>
<line x1="63.3" y1="560.3" x2="69.3" y2="560.3" stroke="#000" stroke-width="1.4"/>
<text x="62.0" y="563.8" font-size="9.9" font-weight="bold" text-anchor="end" fill="#000">-4</text>
<line x1="63.3" y1="599.2" x2="69.3" y2="599.2" stroke="#000" stroke-width="1.4"/>
<text x="62.0" y="602.7" font-size="9.9" font-weight="bold" text-anchor="end" fill="#000">-3</text>
<line x1="63.3" y1="638.2" x2="69.3" y2="638.2" stroke="#000" stroke-width="1.4"/>
<text x="62.0" y="641.7" font-size="9.9" font-weight="bold" text-anchor="end" fill="#000">-2</text>
<line x1="63.3" y1="677.0" x2="69.3" y2="677.0" stroke="#000" stroke-width="1.4"/>
<text x="62.0" y="680.5" font-size="9.9" font-weight="bold" text-anchor="end" fill="#000">-1</text>
<line x1="68.5" y1="677.0" x2="213.2" y2="677.0" stroke="#000" stroke-width="1.6"/>
<text x="90.0" y="691.4" font-size="10.3" font-weight="bold" text-anchor="end" fill="#000" transform="rotate(-45 90.0 691.4)">W</text>
<text x="116.7" y="691.4" font-size="10.3" font-weight="bold" text-anchor="end" fill="#000" transform="rotate(-45 116.7 691.4)">D</text>
<text x="143.3" y="691.4" font-size="10.3" font-weight="bold" text-anchor="end" fill="#000" transform="rotate(-45 143.3 691.4)">T</text>
<text x="170.5" y="691.4" font-size="10.3" font-weight="bold" text-anchor="end" fill="#000" transform="rotate(-45 170.5 691.4)">B-WD</text>
<text x="197.5" y="691.4" font-size="10.3" font-weight="bold" text-anchor="end" fill="#000" transform="rotate(-45 197.5 691.4)">B-WT</text>
<text x="233.4" y="532.4" font-size="25" font-weight="bold" text-anchor="start" fill="#000">G</text>
<text x="346.0" y="552.0" font-size="10.8" text-anchor="middle" fill="#111" textLength="72.86" lengthAdjust="spacingAndGlyphs">Delta/B.1.617.2</text>
<text x="261.3" y="622.0" font-size="10.2" font-weight="bold" text-anchor="middle" transform="rotate(-90 261.3 622.0)" textLength="125" lengthAdjust="spacingAndGlyphs">IC<tspan font-size="8.0" dy="2.2">50</tspan><tspan dy="-2.2"> serum dilution (log</tspan><tspan font-size="8.0" dy="2.2">10</tspan><tspan dy="-2.2">)</tspan></text>
<rect x="293.35" y="648.65" width="13.30" height="29.35" fill="#c8d9f6" stroke="#1414b8" stroke-width="2.1"/>
<line x1="300.0" y1="644.0" x2="300.0" y2="651.0" stroke="#1414b8" stroke-width="1.1"/>
<line x1="296.6" y1="644.0" x2="303.4" y2="644.0" stroke="#1414b8" stroke-width="1.1"/>
<line x1="296.6" y1="651.0" x2="303.4" y2="651.0" stroke="#1414b8" stroke-width="1.1"/>
<circle cx="294.20" cy="641.90" r="2.65" stroke="#1414b8" stroke-width="1.55" fill="none"/>
<circle cx="300.00" cy="643.30" r="2.65" stroke="#1414b8" stroke-width="1.55" fill="none"/>
<circle cx="305.80" cy="636.90" r="2.65" stroke="#1414b8" stroke-width="1.55" fill="none"/>
<circle cx="305.80" cy="645.20" r="2.65" stroke="#1414b8" stroke-width="1.55" fill="none"/>
<circle cx="294.20" cy="653.90" r="2.65" stroke="#1414b8" stroke-width="1.55" fill="none"/>
<circle cx="305.20" cy="652.00" r="2.65" stroke="#1414b8" stroke-width="1.55" fill="none"/>
<circle cx="300.00" cy="649.00" r="2.65" stroke="#1414b8" stroke-width="1.55" fill="none"/>
<rect x="316.55" y="616.25" width="14.10" height="61.75" fill="#fbd8d8" stroke="#dc4450" stroke-width="2.1"/>
<line x1="323.6" y1="611.0" x2="323.6" y2="619.5" stroke="#dc4450" stroke-width="1.1"/>
<line x1="320.20000000000005" y1="611.0" x2="327.0" y2="611.0" stroke="#dc4450" stroke-width="1.1"/>
<line x1="320.20000000000005" y1="619.5" x2="327.0" y2="619.5" stroke="#dc4450" stroke-width="1.1"/>
<circle cx="323.90" cy="587.60" r="2.65" stroke="#d03c48" stroke-width="1.55" fill="none"/>
<circle cx="323.90" cy="600.50" r="2.65" stroke="#d03c48" stroke-width="1.55" fill="none"/>
<circle cx="318.50" cy="611.10" r="2.65" stroke="#d03c48" stroke-width="1.55" fill="none"/>
<circle cx="329.40" cy="610.30" r="2.65" stroke="#d03c48" stroke-width="1.55" fill="none"/>
<circle cx="318.50" cy="617.80" r="2.65" stroke="#d03c48" stroke-width="1.55" fill="none"/>
<circle cx="329.40" cy="618.60" r="2.65" stroke="#d03c48" stroke-width="1.55" fill="none"/>
<circle cx="318.50" cy="623.30" r="2.65" stroke="#d03c48" stroke-width="1.55" fill="none"/>
<rect x="341.55" y="660.75" width="12.70" height="17.25" fill="#fee0c8" stroke="#e88428" stroke-width="2.1"/>
<line x1="347.9" y1="652.5" x2="347.9" y2="667.5" stroke="#e88428" stroke-width="1.1"/>
<line x1="344.5" y1="652.5" x2="351.29999999999995" y2="652.5" stroke="#e88428" stroke-width="1.1"/>
<line x1="344.5" y1="667.5" x2="351.29999999999995" y2="667.5" stroke="#e88428" stroke-width="1.1"/>
<circle cx="347.60" cy="635.60" r="2.65" stroke="#e88428" stroke-width="1.55" fill="none"/>
<circle cx="342.20" cy="645.80" r="2.65" stroke="#e88428" stroke-width="1.55" fill="none"/>
<circle cx="347.60" cy="643.30" r="2.65" stroke="#e88428" stroke-width="1.55" fill="none"/>
<circle cx="353.40" cy="647.70" r="2.65" stroke="#e88428" stroke-width="1.55" fill="none"/>
<circle cx="345.30" cy="669.70" r="2.65" stroke="#e88428" stroke-width="1.55" fill="none"/>
<circle cx="350.50" cy="667.00" r="2.65" stroke="#e88428" stroke-width="1.55" fill="none"/>
<rect x="364.95" y="623.65" width="13.70" height="54.35" fill="#efcbf9" stroke="#9414cc" stroke-width="2.1"/>
<line x1="371.79999999999995" y1="617.0" x2="371.79999999999995" y2="625.5" stroke="#9414cc" stroke-width="1.1"/>
<line x1="368.4" y1="617.0" x2="375.19999999999993" y2="617.0" stroke="#9414cc" stroke-width="1.1"/>
<line x1="368.4" y1="625.5" x2="375.19999999999993" y2="625.5" stroke="#9414cc" stroke-width="1.1"/>
<circle cx="366.60" cy="603.60" r="2.65" stroke="#9414cc" stroke-width="1.55" fill="none"/>
<circle cx="376.80" cy="608.90" r="2.65" stroke="#9414cc" stroke-width="1.55" fill="none"/>
<circle cx="366.60" cy="613.90" r="2.65" stroke="#9414cc" stroke-width="1.55" fill="none"/>
<circle cx="376.80" cy="616.10" r="2.65" stroke="#9414cc" stroke-width="1.55" fill="none"/>
<circle cx="366.60" cy="621.10" r="2.65" stroke="#9414cc" stroke-width="1.55" fill="none"/>
<circle cx="376.80" cy="621.10" r="2.65" stroke="#9414cc" stroke-width="1.55" fill="none"/>
<circle cx="371.70" cy="634.20" r="2.65" stroke="#9414cc" stroke-width="1.55" fill="none"/>
<rect x="389.05" y="648.85" width="12.80" height="29.15" fill="#c9f8c9" stroke="#1fa51f" stroke-width="2.1"/>
<line x1="395.45" y1="643.5" x2="395.45" y2="650.5" stroke="#1fa51f" stroke-width="1.1"/>
<line x1="392.05" y1="643.5" x2="398.84999999999997" y2="643.5" stroke="#1fa51f" stroke-width="1.1"/>
<line x1="392.05" y1="650.5" x2="398.84999999999997" y2="650.5" stroke="#1fa51f" stroke-width="1.1"/>
<circle cx="395.40" cy="636.20" r="2.65" stroke="#1fa51f" stroke-width="1.55" fill="none"/>
<circle cx="390.00" cy="644.30" r="2.65" stroke="#1fa51f" stroke-width="1.55" fill="none"/>
<circle cx="395.40" cy="642.70" r="2.65" stroke="#1fa51f" stroke-width="1.55" fill="none"/>
<circle cx="401.10" cy="644.80" r="2.65" stroke="#1fa51f" stroke-width="1.55" fill="none"/>
<circle cx="392.90" cy="652.90" r="2.65" stroke="#1fa51f" stroke-width="1.55" fill="none"/>
<circle cx="398.60" cy="652.40" r="2.65" stroke="#1fa51f" stroke-width="1.55" fill="none"/>
<circle cx="395.40" cy="648.10" r="2.65" stroke="#1fa51f" stroke-width="1.55" fill="none"/>
<line x1="284.2" y1="565.5999999999999" x2="284.2" y2="678.8" stroke="#000" stroke-width="1.6"/>
<line x1="278.2" y1="566.3" x2="284.2" y2="566.3" stroke="#000" stroke-width="1.4"/>
<text x="0" y="0" font-size="10.3" font-weight="bold" text-anchor="end" fill="#000" transform="translate(277.2 570.0) scale(0.9 1)">-6</text>
<line x1="278.2" y1="588.6" x2="284.2" y2="588.6" stroke="#000" stroke-width="1.4"/>
<text x="0" y="0" font-size="10.3" font-weight="bold" text-anchor="end" fill="#000" transform="translate(277.2 592.3) scale(0.9 1)">-5</text>
<line x1="278.2" y1="611.0" x2="284.2" y2="611.0" stroke="#000" stroke-width="1.4"/>
<text x="0" y="0" font-size="10.3" font-weight="bold" text-anchor="end" fill="#000" transform="translate(277.2 614.7) scale(0.9 1)">-4</text>
<line x1="278.2" y1="633.3" x2="284.2" y2="633.3" stroke="#000" stroke-width="1.4"/>
<text x="0" y="0" font-size="10.3" font-weight="bold" text-anchor="end" fill="#000" transform="translate(277.2 637.0) scale(0.9 1)">-3</text>
<line x1="278.2" y1="655.7" x2="284.2" y2="655.7" stroke="#000" stroke-width="1.4"/>
<text x="0" y="0" font-size="10.3" font-weight="bold" text-anchor="end" fill="#000" transform="translate(277.2 659.4) scale(0.9 1)">-2</text>
<line x1="278.2" y1="678.0" x2="284.2" y2="678.0" stroke="#000" stroke-width="1.4"/>
<text x="0" y="0" font-size="10.3" font-weight="bold" text-anchor="end" fill="#000" transform="translate(277.2 681.7) scale(0.9 1)">-1</text>
<line x1="283.4" y1="678.0" x2="413.8" y2="678.0" stroke="#000" stroke-width="1.6"/>
<text x="302.6" y="692.4" font-size="10.3" font-weight="bold" text-anchor="end" fill="#000" transform="rotate(-45 302.6 692.4)">W</text>
<text x="326.2" y="692.4" font-size="10.3" font-weight="bold" text-anchor="end" fill="#000" transform="rotate(-45 326.2 692.4)">D</text>
<text x="350.5" y="692.4" font-size="10.3" font-weight="bold" text-anchor="end" fill="#000" transform="rotate(-45 350.5 692.4)">T</text>
<text x="374.4" y="692.4" font-size="10.3" font-weight="bold" text-anchor="end" fill="#000" transform="rotate(-45 374.4 692.4)">B-WD</text>
<text x="398.1" y="692.4" font-size="10.3" font-weight="bold" text-anchor="end" fill="#000" transform="rotate(-45 398.1 692.4)">B-WT</text>
<path d="M298.4 572.6 L298.4 566.7 L372.1 566.7 L372.1 601.0" stroke="#111" stroke-width="1.3" fill="none"/>
<path d="M298.4 626.2 L298.4 576.8 L324.0 576.8 L324.0 583.5" stroke="#111" stroke-width="1.3" fill="none"/>
<text x="311.2" y="566.6" font-size="8.5" font-weight="bold" text-anchor="middle" fill="#000">*</text>
<text x="311.2" y="576.2" font-size="8.5" font-weight="bold" text-anchor="middle" fill="#000">*</text>
<text x="428.4" y="530.8" font-size="25" font-weight="bold" text-anchor="start" fill="#000">H</text>
<text x="549.6" y="552.0" font-size="10.8" text-anchor="middle" fill="#111" textLength="69.46" lengthAdjust="spacingAndGlyphs">Alpha/B.1.1.7</text>
<text x="463.8" y="618.6" font-size="10.2" font-weight="bold" text-anchor="middle" transform="rotate(-90 463.8 618.6)" textLength="125" lengthAdjust="spacingAndGlyphs">IC<tspan font-size="8.0" dy="2.2">50</tspan><tspan dy="-2.2"> serum dilution (log</tspan><tspan font-size="8.0" dy="2.2">10</tspan><tspan dy="-2.2">)</tspan></text>
<rect x="497.75" y="598.05" width="15.10" height="77.25" fill="#c8d9f6" stroke="#1414b8" stroke-width="2.1"/>
<line x1="505.29999999999995" y1="594.5" x2="505.29999999999995" y2="600.0" stroke="#1414b8" stroke-width="1.1"/>
<line x1="501.9" y1="594.5" x2="508.69999999999993" y2="594.5" stroke="#1414b8" stroke-width="1.1"/>
<line x1="501.9" y1="600.0" x2="508.69999999999993" y2="600.0" stroke="#1414b8" stroke-width="1.1"/>
<circle cx="505.50" cy="588.50" r="2.65" stroke="#1414b8" stroke-width="1.55" fill="none"/>
<circle cx="498.70" cy="594.60" r="2.65" stroke="#1414b8" stroke-width="1.55" fill="none"/>
<circle cx="505.50" cy="596.40" r="2.65" stroke="#1414b8" stroke-width="1.55" fill="none"/>
<circle cx="512.40" cy="597.90" r="2.65" stroke="#1414b8" stroke-width="1.55" fill="none"/>
<circle cx="498.70" cy="602.80" r="2.65" stroke="#1414b8" stroke-width="1.55" fill="none"/>
<rect x="524.15" y="609.05" width="15.20" height="66.25" fill="#fcd9d9" stroke="#cf1d2a" stroke-width="2.1"/>
<line x1="531.75" y1="600.5" x2="531.75" y2="615.5" stroke="#cf1d2a" stroke-width="1.1"/>
<line x1="528.35" y1="600.5" x2="535.15" y2="600.5" stroke="#cf1d2a" stroke-width="1.1"/>
<line x1="528.35" y1="615.5" x2="535.15" y2="615.5" stroke="#cf1d2a" stroke-width="1.1"/>
<circle cx="531.80" cy="580.40" r="2.65" stroke="#bf1c28" stroke-width="1.55" fill="none"/>
<circle cx="525.60" cy="596.90" r="2.65" stroke="#bf1c28" stroke-width="1.55" fill="none"/>
<circle cx="537.90" cy="592.70" r="2.65" stroke="#bf1c28" stroke-width="1.55" fill="none"/>
<circle cx="525.60" cy="616.60" r="2.65" stroke="#bf1c28" stroke-width="1.55" fill="none"/>
<circle cx="537.90" cy="616.60" r="2.65" stroke="#bf1c28" stroke-width="1.55" fill="none"/>
<rect x="550.85" y="597.95" width="15.10" height="77.35" fill="#fee0c8" stroke="#e88428" stroke-width="2.1"/>
<line x1="558.4" y1="591.5" x2="558.4" y2="602.5" stroke="#e88428" stroke-width="1.1"/>
<line x1="555.0" y1="591.5" x2="561.8" y2="591.5" stroke="#e88428" stroke-width="1.1"/>
<line x1="555.0" y1="602.5" x2="561.8" y2="602.5" stroke="#e88428" stroke-width="1.1"/>
<circle cx="558.40" cy="584.10" r="2.65" stroke="#e88428" stroke-width="1.55" fill="none"/>
<circle cx="552.70" cy="587.80" r="2.65" stroke="#e88428" stroke-width="1.55" fill="none"/>
<circle cx="565.00" cy="587.80" r="2.65" stroke="#e88428" stroke-width="1.55" fill="none"/>
<circle cx="558.40" cy="599.40" r="2.65" stroke="#e88428" stroke-width="1.55" fill="none"/>
<circle cx="558.40" cy="606.80" r="2.65" stroke="#e88428" stroke-width="1.55" fill="none"/>
<rect x="577.65" y="609.75" width="15.20" height="65.55" fill="#efcbf9" stroke="#9414cc" stroke-width="2.1"/>
<line x1="585.25" y1="599.0" x2="585.25" y2="618.5" stroke="#9414cc" stroke-width="1.1"/>
<line x1="581.85" y1="599.0" x2="588.65" y2="599.0" stroke="#9414cc" stroke-width="1.1"/>
<line x1="581.85" y1="618.5" x2="588.65" y2="618.5" stroke="#9414cc" stroke-width="1.1"/>
<circle cx="585.50" cy="580.40" r="2.65" stroke="#9414cc" stroke-width="1.55" fill="none"/>
<circle cx="579.10" cy="596.40" r="2.65" stroke="#9414cc" stroke-width="1.55" fill="none"/>
<circle cx="591.40" cy="592.00" r="2.65" stroke="#9414cc" stroke-width="1.55" fill="none"/>
<circle cx="585.50" cy="604.30" r="2.65" stroke="#9414cc" stroke-width="1.55" fill="none"/>
<circle cx="585.50" cy="624.80" r="2.65" stroke="#9414cc" stroke-width="1.55" fill="none"/>
<rect x="604.35" y="588.85" width="15.10" height="86.45" fill="#c9f8c9" stroke="#1fa51f" stroke-width="2.1"/>
<line x1="611.9" y1="581.0" x2="611.9" y2="594.5" stroke="#1fa51f" stroke-width="1.1"/>
<line x1="608.5" y1="581.0" x2="615.3" y2="581.0" stroke="#1fa51f" stroke-width="1.1"/>
<line x1="608.5" y1="594.5" x2="615.3" y2="594.5" stroke="#1fa51f" stroke-width="1.1"/>
<circle cx="612.40" cy="568.10" r="2.65" stroke="#1fa51f" stroke-width="1.55" fill="none"/>
<circle cx="605.70" cy="577.90" r="2.65" stroke="#1fa51f" stroke-width="1.55" fill="none"/>
<circle cx="618.60" cy="577.90" r="2.65" stroke="#1fa51f" stroke-width="1.55" fill="none"/>
<circle cx="612.40" cy="579.70" r="2.65" stroke="#1fa51f" stroke-width="1.55" fill="none"/>
<circle cx="612.40" cy="602.60" r="2.65" stroke="#1fa51f" stroke-width="1.55" fill="none"/>
<line x1="487.7" y1="560.6999999999999" x2="487.7" y2="676.0999999999999" stroke="#000" stroke-width="1.6"/>
<line x1="481.7" y1="561.4" x2="487.7" y2="561.4" stroke="#000" stroke-width="1.4"/>
<text x="480.3" y="564.9" font-size="9.9" font-weight="bold" text-anchor="end" fill="#000">-5</text>
<line x1="481.7" y1="590.0" x2="487.7" y2="590.0" stroke="#000" stroke-width="1.4"/>
<text x="480.3" y="593.5" font-size="9.9" font-weight="bold" text-anchor="end" fill="#000">-4</text>
<line x1="481.7" y1="618.5" x2="487.7" y2="618.5" stroke="#000" stroke-width="1.4"/>
<text x="480.3" y="622.0" font-size="9.9" font-weight="bold" text-anchor="end" fill="#000">-3</text>
<line x1="481.7" y1="646.9" x2="487.7" y2="646.9" stroke="#000" stroke-width="1.4"/>
<text x="480.3" y="650.4" font-size="9.9" font-weight="bold" text-anchor="end" fill="#000">-2</text>
<line x1="481.7" y1="675.3" x2="487.7" y2="675.3" stroke="#000" stroke-width="1.4"/>
<text x="480.3" y="678.8" font-size="9.9" font-weight="bold" text-anchor="end" fill="#000">-1</text>
<line x1="486.9" y1="675.3" x2="630.8" y2="675.3" stroke="#000" stroke-width="1.6"/>
<text x="507.9" y="689.7" font-size="10.3" font-weight="bold" text-anchor="end" fill="#000" transform="rotate(-45 507.9 689.7)">W</text>
<text x="534.4" y="689.7" font-size="10.3" font-weight="bold" text-anchor="end" fill="#000" transform="rotate(-45 534.4 689.7)">D</text>
<text x="561.0" y="689.7" font-size="10.3" font-weight="bold" text-anchor="end" fill="#000" transform="rotate(-45 561.0 689.7)">T</text>
<text x="587.9" y="689.7" font-size="10.3" font-weight="bold" text-anchor="end" fill="#000" transform="rotate(-45 587.9 689.7)">B-WD</text>
<text x="614.5" y="689.7" font-size="10.3" font-weight="bold" text-anchor="end" fill="#000" transform="rotate(-45 614.5 689.7)">B-WT</text>
</svg>
</body></html>
